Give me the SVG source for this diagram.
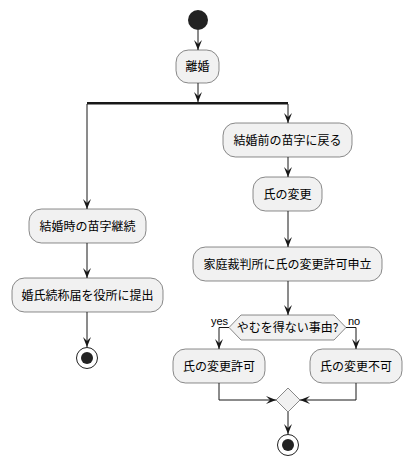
<svg xmlns="http://www.w3.org/2000/svg" width="412" height="465" viewBox="0 0 412 465">
<defs>
<style>
.node rect{fill:#F1F1F1;stroke:#181818;stroke-width:0.5}
.node text,.lbl{font-family:"Noto Sans CJK JP","Noto Sans",sans-serif;font-size:12px;fill:#000;text-anchor:middle}
.lbl{font-size:11px}
.conn line,.conn polyline{stroke:#181818;stroke-width:1;fill:none}
.ah{fill:#181818}
.dia{fill:#F1F1F1;stroke:#181818;stroke-width:0.5}
</style>
<marker id="arr" viewBox="0 0 10 8" refX="10" refY="4" markerWidth="10" markerHeight="8" markerUnits="userSpaceOnUse" orient="auto">
<polygon class="ah" points="0,0 10,4 0,8 4,4"/>
</marker>
</defs>
<rect width="412" height="465" fill="#FFFFFF"/>
<g id="start"><circle cx="198" cy="20" r="10" fill="#222222"/></g>
<g id="n-rikon" class="node"><rect x="176" y="50" width="43" height="33" rx="12.5"/><text x="197.5" y="71">離婚</text></g>
<g id="fork"><rect x="87" y="102" width="201" height="2.5" fill="#181818"/></g>
<g id="n-keizoku" class="node"><rect x="29" y="209" width="117" height="34" rx="12.5"/><text x="87.5" y="230.5">結婚時の苗字継続</text></g>
<g id="n-teishutsu" class="node"><rect x="12" y="278" width="151" height="34" rx="12.5"/><text x="87.5" y="299.5">婚氏続称届を役所に提出</text></g>
<g id="end1"><circle cx="87" cy="358" r="10.5" fill="none" stroke="#222222" stroke-width="1"/><circle cx="87" cy="358" r="6" fill="#222222"/></g>
<g id="n-modoru" class="node"><rect x="223" y="123" width="129" height="34" rx="12.5"/><text x="287.5" y="144.5">結婚前の苗字に戻る</text></g>
<g id="n-henkou" class="node"><rect x="253" y="177" width="69" height="34" rx="12.5"/><text x="287.5" y="198.5">氏の変更</text></g>
<g id="n-moushitate" class="node"><rect x="193" y="247" width="189" height="34" rx="12.5"/><text x="287.5" y="268.5">家庭裁判所に氏の変更許可申立</text></g>
<g id="decision"><polygon class="dia" points="229,327.5 241,315 334,315 346,327.5 334,340 241,340"/><text class="lbl" x="287.5" y="332" style="font-size:12px">やむを得ない事由?</text></g>
<g id="n-kyoka" class="node"><rect x="173" y="349" width="92" height="34" rx="12.5"/><text x="219" y="370.5">氏の変更許可</text></g>
<g id="n-fuka" class="node"><rect x="310" y="349" width="92" height="34" rx="12.5"/><text x="356" y="370.5">氏の変更不可</text></g>
<g id="merge"><polygon class="dia" points="288,388 300,400 288,412 276,400"/></g>
<g id="end2"><circle cx="288" cy="445" r="10.5" fill="none" stroke="#222222" stroke-width="1"/><circle cx="288" cy="445" r="6" fill="#222222"/></g>
<g id="connectors" class="conn">
<line x1="198" y1="30" x2="198" y2="50" marker-end="url(#arr)"/>
<line x1="198" y1="83" x2="198" y2="102" marker-end="url(#arr)"/>
<line x1="87" y1="104" x2="87" y2="209" marker-end="url(#arr)"/>
<line x1="288" y1="104" x2="288" y2="123" marker-end="url(#arr)"/>
<line x1="87" y1="243" x2="87" y2="278" marker-end="url(#arr)"/>
<line x1="87" y1="312" x2="87" y2="347" marker-end="url(#arr)"/>
<line x1="288" y1="157" x2="288" y2="177" marker-end="url(#arr)"/>
<line x1="288" y1="211" x2="288" y2="247" marker-end="url(#arr)"/>
<line x1="288" y1="281" x2="288" y2="315" marker-end="url(#arr)"/>
<polyline points="229,327.5 219,327.5 219,349" marker-end="url(#arr)"/>
<polyline points="346,327.5 356,327.5 356,349" marker-end="url(#arr)"/>
<polyline points="219,383 219,400 276,400" marker-end="url(#arr)"/>
<polyline points="356,383 356,400 300,400" marker-end="url(#arr)"/>
<line x1="288" y1="412" x2="288" y2="434" marker-end="url(#arr)"/>
<text class="lbl" x="228" y="325" style="text-anchor:end;font-family:'Liberation Sans',sans-serif">yes</text>
<text class="lbl" x="348" y="325" style="text-anchor:start;font-family:'Liberation Sans',sans-serif">no</text>
</g>
</svg>
